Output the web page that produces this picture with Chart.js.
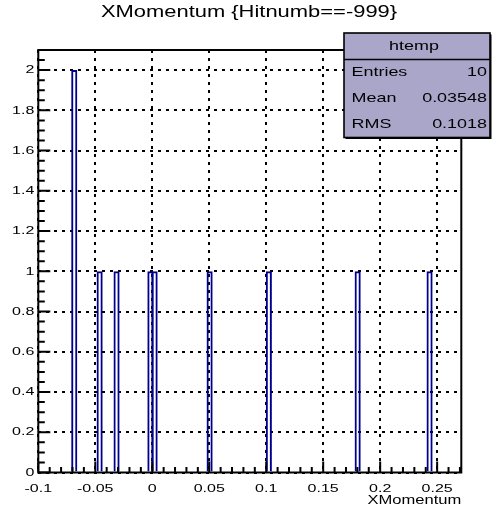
<!DOCTYPE html>
<html>
<head>
<meta charset="utf-8">
<script src="https://cdn.jsdelivr.net/npm/chart.js@4"></script>
<style>
  html, body { margin: 0; padding: 0; background: #fff; }
  canvas { display: block; }
</style>
</head>
<body>
<canvas id="hist" width="500" height="512"></canvas>
<script>
// ---- histogram definition: XMomentum, 100 bins ----
const binRange = [-0.1, 0.2712];
const binCount = 100;
// bins holding entries, and how many entries each one holds
const filledBins = [8, 14, 18, 26, 27, 40, 54, 75, 92];
const binEntries = [2, 1, 1, 1, 1, 1, 1, 1, 1];

// ---- axes ----
const xTicks = [-0.1, -0.05, 0, 0.05, 0.1, 0.15, 0.2, 0.25];
const yTicks = [0, 0.2, 0.4, 0.6, 0.8, 1, 1.2, 1.4, 1.6, 1.8, 2];
const yMax = 2.1;
const xMinorStep = 0.01;
const yMinorStep = 0.05;

// ---- texts ----
const titleText = 'XMomentum {Hitnumb==-999}';
const xTitle = 'XMomentum';
const statsName = 'htemp';
const statLabels = ['Entries', 'Mean', 'RMS'];
const statValues = ['10', '0.03548', '0.1018'];

// ---- build the per-bin table ----
const binWidth = (binRange[1] - binRange[0]) / binCount;
const counts = new Array(binCount).fill(null);
filledBins.forEach((b, i) => { counts[b] = binEntries[i]; });
const histData = counts.map((y, k) => ({ x: binRange[0] + (k + 0.5) * binWidth, y }));

const fmt = v => String(parseFloat(Number(v).toFixed(4)));
const FONT = "'Liberation Sans', Arial, Helvetica, sans-serif";

// wide glyphs: every text run is drawn horizontally stretched around its anchor
const canvas = document.getElementById('hist');
const ctx2d = canvas.getContext('2d');
const TEXT_STRETCH = 1.38;
const plainFillText = ctx2d.fillText;
ctx2d.fillText = function (text, x, y) {
  this.save();
  this.translate(x, y);
  this.scale(TEXT_STRETCH, 1);
  plainFillText.call(this, text, 0, 0);
  this.restore();
};

// frame, inward tick marks, title and statistics box
const framePlugin = {
  id: 'framePlugin',
  afterDraw(chart) {
    const { ctx, chartArea: a, scales: { x, y } } = chart;
    ctx.save();

    // tick marks pointing into the frame
    ctx.strokeStyle = '#000';
    ctx.lineWidth = 2;
    ctx.beginPath();
    const nx = Math.round((binRange[1] - binRange[0]) / xMinorStep);
    for (let k = 0; k <= nx; k++) {
      const v = binRange[0] + k * xMinorStep;
      if (v > binRange[1] + 1e-9) break;
      const px = x.getPixelForValue(v);
      const len = (k % 5 === 0) ? 11 : 5.5;
      ctx.moveTo(px, a.bottom);
      ctx.lineTo(px, a.bottom - len);
    }
    const ny = Math.round(yMax / yMinorStep);
    for (let k = 0; k <= ny; k++) {
      const v = k * yMinorStep;
      if (v > yMax + 1e-9) break;
      const py = y.getPixelForValue(v);
      const len = (k % 4 === 0) ? 12 : 6.5;
      ctx.moveTo(a.left, py);
      ctx.lineTo(a.left + len, py);
    }
    ctx.stroke();

    // frame
    ctx.lineWidth = 2;
    ctx.strokeRect(a.left, a.top, a.right - a.left, a.bottom - a.top);

    // title
    ctx.fillStyle = '#000';
    ctx.font = '15.9px ' + FONT;
    ctx.textAlign = 'center';
    ctx.textBaseline = 'middle';
    ctx.fillText(titleText, 249, 13);

    // statistics box
    const bx = 344, by = 33, bw = 146, bh = 104.5, hh = 26.5;
    ctx.fillStyle = '#000';
    ctx.fillRect(bx + 1.5, by + 1.5, bw, bh);
    ctx.fillStyle = '#a9a6c9';
    ctx.fillRect(bx, by, bw, bh);
    ctx.lineWidth = 1.6;
    ctx.strokeStyle = '#000';
    ctx.strokeRect(bx, by, bw, bh);
    ctx.beginPath();
    ctx.moveTo(bx, by + hh);
    ctx.lineTo(bx + bw, by + hh);
    ctx.stroke();

    ctx.fillStyle = '#000';
    ctx.font = '13px ' + FONT;
    ctx.textAlign = 'center';
    ctx.fillText(statsName, bx + bw / 2 - 3, by + hh / 2 + 0.5);

    ctx.font = '13px ' + FONT;
    const rowH = (bh - hh) / statLabels.length;
    statLabels.forEach((lab, i) => {
      const cy = by + hh + rowH * (i + 0.5);
      ctx.textAlign = 'left';
      ctx.fillText(lab, bx + 7.5, cy);
      ctx.textAlign = 'right';
      ctx.fillText(statValues[i], bx + bw - 3, cy);
    });

    ctx.restore();
  }
};

Chart.defaults.font.family = FONT;
Chart.defaults.color = '#000';

new Chart(ctx2d, {
  type: 'bar',
  data: {
    datasets: [{
      data: histData,
      backgroundColor: 'rgba(0,0,0,0)',
      borderColor: '#00008f',
      borderWidth: 2,
      borderSkipped: 'bottom',
      inflateAmount: 0,
      barPercentage: 1.45,
      categoryPercentage: 1
    }]
  },
  options: {
    responsive: false,
    animation: false,
    events: [],
    layout: { padding: { left: 0, right: 38.7, top: 50, bottom: 0 } },
    plugins: { legend: { display: false }, tooltip: { enabled: false }, title: { display: false } },
    scales: {
      x: {
        type: 'linear',
        min: binRange[0],
        max: binRange[1],
        offset: false,
        afterBuildTicks: s => { s.ticks = xTicks.map(value => ({ value })); },
        afterFit: s => { s.height = 39.5; },
        grid: { color: '#000', lineWidth: 2, drawTicks: false, offset: false },
        border: { display: false, dash: [3, 5] },
        ticks: { autoSkip: false, maxRotation: 0, minRotation: 0, padding: 9.5,
                 font: { size: 11.6 }, callback: v => fmt(v) },
        title: { display: true, text: xTitle, align: 'end', font: { size: 12 },
                 padding: { top: 0, bottom: 4.5 } }
      },
      y: {
        type: 'linear',
        min: 0,
        max: yMax,
        afterBuildTicks: s => { s.ticks = yTicks.map(value => ({ value })); },
        afterFit: s => { s.width = 38.3; },
        grid: { color: '#000', lineWidth: 2, drawTicks: false },
        border: { display: false, dash: [3, 5] },
        ticks: { padding: 4, font: { size: 11.6 }, callback: v => fmt(v) }
      }
    }
  },
  plugins: [framePlugin]
});
</script>
</body>
</html>
